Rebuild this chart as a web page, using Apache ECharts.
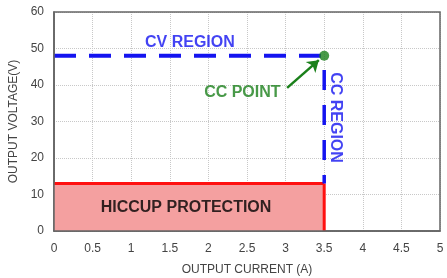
<!DOCTYPE html>
<html>
<head>
<meta charset="utf-8">
<script src="https://cdn.jsdelivr.net/npm/echarts@6/dist/echarts.min.js"></script>
<style>
  html, body { margin: 0; padding: 0; background: #fff; }
  #chart { width: 447px; height: 278px; }
</style>
</head>
<body>
<div id="chart"></div>
<script>
// chart data
const xTicks = [0, 0.5, 1, 1.5, 2, 2.5, 3, 3.5, 4, 4.5, 5]
const cvLine = [[0, 48], [3.5, 48]]
const ccLine = [[3.5, 44.1], [3.5, 13]]
const ccPoint = [[3.5, 48]]
const hiccupArea = [[0, 13], [3.5, 13]]
const hiccupEdge = [[3.5, 13], [3.5, 0]]
const arrowLine = [[3.02, 39.2], [3.43, 46.8]]
const labels = [
  { name: 'CV REGION', value: [1.76, 51.5], color: '#1414f0', rotate: 0 },
  { name: 'CC POINT', value: [2.44, 37.8], color: '#1a801a', rotate: 0 },
  { name: 'CC REGION', value: [3.64, 31.1], color: '#1414f0', rotate: -90 },
  { name: 'HICCUP PROTECTION', value: [1.71, 6.3], color: '#000', rotate: 0 }
]

const font = 'Liberation Sans, Arial, sans-serif'
const chart = echarts.init(document.getElementById('chart'))

chart.setOption({
  animation: false,
  grid: { left: 54, top: 12, width: 386, height: 219, outerBoundsMode: 'none', containLabel: false },
  xAxis: {
    type: 'value',
    min: 0,
    max: 5,
    interval: 0.5,
    name: 'OUTPUT CURRENT (A)',
    nameLocation: 'middle',
    nameGap: 33,
    nameTextStyle: { color: '#444', fontSize: 12, fontFamily: font },
    axisLine: { show: true, lineStyle: { color: '#555', width: 1.5 } },
    axisTick: { show: false },
    axisLabel: {
      color: '#444', fontSize: 12, fontFamily: font, margin: 12,
      formatter: v => xTicks.indexOf(v) >= 0 ? String(v) : ''
    },
    splitLine: { show: true, lineStyle: { color: '#c8c8c8', type: 'dotted' } }
  },
  yAxis: {
    type: 'value',
    min: 0,
    max: 60,
    interval: 10,
    name: 'OUTPUT VOLTAGE(V)',
    nameLocation: 'middle',
    nameGap: 30,
    nameTextStyle: { color: '#444', fontSize: 12, fontFamily: font },
    axisLine: { show: true, lineStyle: { color: '#555', width: 1.5 } },
    axisTick: { show: false },
    axisLabel: { color: '#444', fontSize: 12, fontFamily: font, margin: 10 },
    splitLine: { show: true, lineStyle: { color: '#c8c8c8', type: 'dotted' } }
  },
  graphic: [{
    type: 'rect',
    shape: { x: 54, y: 12, width: 386, height: 219 },
    style: { fill: 'none', stroke: '#666', lineWidth: 1.5 },
    z: 100
  }],
  series: [
    {
      type: 'line',
      data: hiccupArea,
      symbol: 'none',
      lineStyle: { color: '#ff1010', width: 3 },
      areaStyle: { color: '#f4a0a0', opacity: 1 },
      z: 2
    },
    {
      type: 'line',
      data: hiccupEdge,
      symbol: 'none',
      lineStyle: { color: '#ff1010', width: 3 },
      z: 3
    },
    {
      type: 'line',
      data: cvLine,
      symbol: 'none',
      lineStyle: { color: '#1414f0', width: 4, type: [22, 13] },
      z: 4
    },
    {
      type: 'line',
      data: ccLine,
      symbol: 'none',
      lineStyle: { color: '#1414f0', width: 3.5, type: [20, 15] },
      z: 4
    },
    {
      type: 'scatter',
      data: ccPoint,
      symbolSize: 10,
      itemStyle: { color: '#1a801a' },
      z: 6
    },
    {
      type: 'lines',
      coordinateSystem: 'cartesian2d',
      symbol: ['none', 'arrow'],
      symbolSize: 11,
      lineStyle: { color: '#1a801a', width: 2.5, opacity: 1 },
      data: [{ coords: arrowLine }],
      z: 5
    },
    {
      type: 'scatter',
      symbolSize: 0,
      data: labels.map(l => ({
        name: l.name,
        value: l.value,
        label: {
          show: true,
          position: 'inside',
          formatter: '{b}',
          color: l.color,
          rotate: l.rotate,
          fontSize: 16,
          fontWeight: 'bold',
          fontFamily: font
        }
      })),
      z: 7
    }
  ]
})
</script>
</body>
</html>
